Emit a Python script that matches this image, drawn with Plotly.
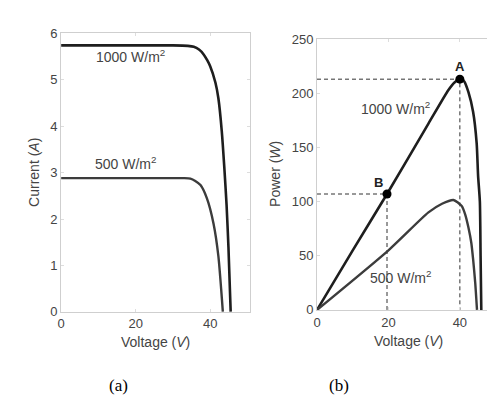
import plotly.graph_objects as go

# ---- data ----
iv1000_v = [0, 10, 20, 30, 34, 35.6, 37, 38.2, 39.2, 40, 41.4, 42.2, 43.1, 43.8, 44.4, 44.9, 45.5]
iv1000_i = [5.74, 5.74, 5.74, 5.74, 5.73, 5.71, 5.65, 5.55, 5.42, 5.29, 4.94, 4.6, 3.9, 3.1, 2.3, 1.4, 0]
iv500_v = [0, 10, 20, 30, 33, 34.7, 36, 37.4, 39.1, 40.9, 42.2, 43.4]
iv500_i = [2.88, 2.88, 2.88, 2.88, 2.88, 2.87, 2.82, 2.73, 2.45, 1.9, 1.2, 0]

pv1000_v = [0, 10, 19.6, 31.2, 36.8, 38.5, 40, 41.2, 42.4, 43.7, 44.7, 45.1, 45.6, 45.8, 46]
pv1000_p = [0, 55, 107, 172, 203, 210, 213, 211, 201, 183, 154, 124, 100, 50, 0]
pv500_v = [0, 20, 31.2, 35, 38.2, 39.5, 40.5, 41.5, 42.4, 43.2, 43.7, 44.3, 44.8]
pv500_p = [0, 55, 90, 98, 101.5, 99, 96, 88, 76, 62, 47, 25, 0]

point_names = ["A", "B"]
point_v = [40, 19.6]
point_p = [213, 107]

x_ticks = [0, 20, 40]
i_ticks = [0, 1, 2, 3, 4, 5, 6]
p_ticks = [0, 50, 100, 150, 200, 250]

W, H = 495, 414
def px(x):
    return x / W
def py(y):
    return 1 - y / H

dark = "#1e1e1e"
mid = "#3c3c3c"

fig = go.Figure()

# left: I-V
fig.add_trace(go.Scatter(x=iv1000_v, y=iv1000_i, mode="lines", line=dict(color=dark, width=2.6, shape="spline", smoothing=0.6),
                         xaxis="x", yaxis="y", showlegend=False, hoverinfo="skip"))
fig.add_trace(go.Scatter(x=iv500_v, y=iv500_i, mode="lines", line=dict(color=mid, width=2.4, shape="spline", smoothing=0.6),
                         xaxis="x", yaxis="y", showlegend=False, hoverinfo="skip"))

# right: dashed guide lines
for v, p in zip(point_v, point_p):
    fig.add_trace(go.Scatter(x=[0, v, v], y=[p, p, 0], mode="lines",
                             line=dict(color="#333333", width=1, dash="4px,3px"),
                             xaxis="x2", yaxis="y2", showlegend=False, hoverinfo="skip"))

fig.add_trace(go.Scatter(x=pv1000_v, y=pv1000_p, mode="lines", line=dict(color=dark, width=2.6, shape="spline", smoothing=0.6),
                         xaxis="x2", yaxis="y2", showlegend=False, hoverinfo="skip"))
fig.add_trace(go.Scatter(x=pv500_v, y=pv500_p, mode="lines", line=dict(color=mid, width=2.4, shape="spline", smoothing=0.6),
                         xaxis="x2", yaxis="y2", showlegend=False, hoverinfo="skip"))
fig.add_trace(go.Scatter(x=point_v, y=point_p, mode="markers", marker=dict(color="#000", size=9),
                         xaxis="x2", yaxis="y2", showlegend=False, hoverinfo="skip"))

tickfont = dict(family="Arial, Liberation Sans, sans-serif", size=13, color="#444")
axcommon = dict(showgrid=False, zeroline=False, showline=True, linecolor="#cfcfcf", linewidth=1,
                mirror="ticks", ticks="inside", ticklen=3, tickcolor="#dddddd", tickfont=tickfont, fixedrange=True)

fig.update_layout(
    width=W, height=H, margin=dict(l=0, r=0, t=0, b=0),
    paper_bgcolor="white", plot_bgcolor="white",
    font=dict(family="Arial, Liberation Sans, sans-serif", color="#444"),
    xaxis=dict(domain=[px(49.5), px(240)], range=[0, 50.7], tickvals=x_ticks, anchor="y", **axcommon),
    yaxis=dict(domain=[py(308), py(19)], range=[0, 6], tickvals=i_ticks, anchor="x", **axcommon),
    xaxis2=dict(domain=[px(307.5), px(494)], range=[0, 51.8], tickvals=x_ticks, anchor="y2", **axcommon),
    yaxis2=dict(domain=[py(306), py(25)], range=[0, 250], tickvals=p_ticks, anchor="x2", **axcommon),
)

tf = dict(family="Arial, Liberation Sans, sans-serif", size=14, color="#444")
ann = [
    dict(x=18.5, y=5.52, xref="x", yref="y", text="1000 W/m<sup>2</sup>", font=tf),
    dict(x=17.2, y=3.2, xref="x", yref="y", text="500 W/m<sup>2</sup>", font=tf),
    dict(x=22.1, y=186, xref="x2", yref="y2", text="1000 W/m<sup>2</sup>", font=tf),
    dict(x=23.5, y=30, xref="x2", yref="y2", text="500 W/m<sup>2</sup>", font=tf),
    dict(x=40.1, y=225, xref="x2", yref="y2", text="<b>A</b>", font=dict(family="Arial", size=13, color="#222")),
    dict(x=17.1, y=118, xref="x2", yref="y2", text="<b>B</b>", font=dict(family="Arial", size=13, color="#222")),
    # axis titles
    dict(x=px(144.5), y=py(339), xref="paper", yref="paper", text="Voltage (<i>V</i>)", font=tf),
    dict(x=px(400), y=py(338), xref="paper", yref="paper", text="Voltage (<i>V</i>)", font=tf),
    dict(x=px(22), y=py(163), xref="paper", yref="paper", text="Current (<i>A</i>)", textangle=-90, font=tf),
    dict(x=px(265), y=py(165), xref="paper", yref="paper", text="Power (<i>W</i>)", textangle=-90, font=tf),
    # captions
    dict(x=px(107), y=py(384), xref="paper", yref="paper", text="(a)",
         font=dict(family="Liberation Serif, Times New Roman, serif", size=17, color="#000")),
    dict(x=px(330), y=py(384), xref="paper", yref="paper", text="(b)",
         font=dict(family="Liberation Serif, Times New Roman, serif", size=17, color="#000")),
]
for a in ann:
    a.setdefault("showarrow", False)
    a.setdefault("xanchor", "center")
    a.setdefault("yanchor", "middle")
fig.update_layout(annotations=ann)

fig.write_html("out.html")
